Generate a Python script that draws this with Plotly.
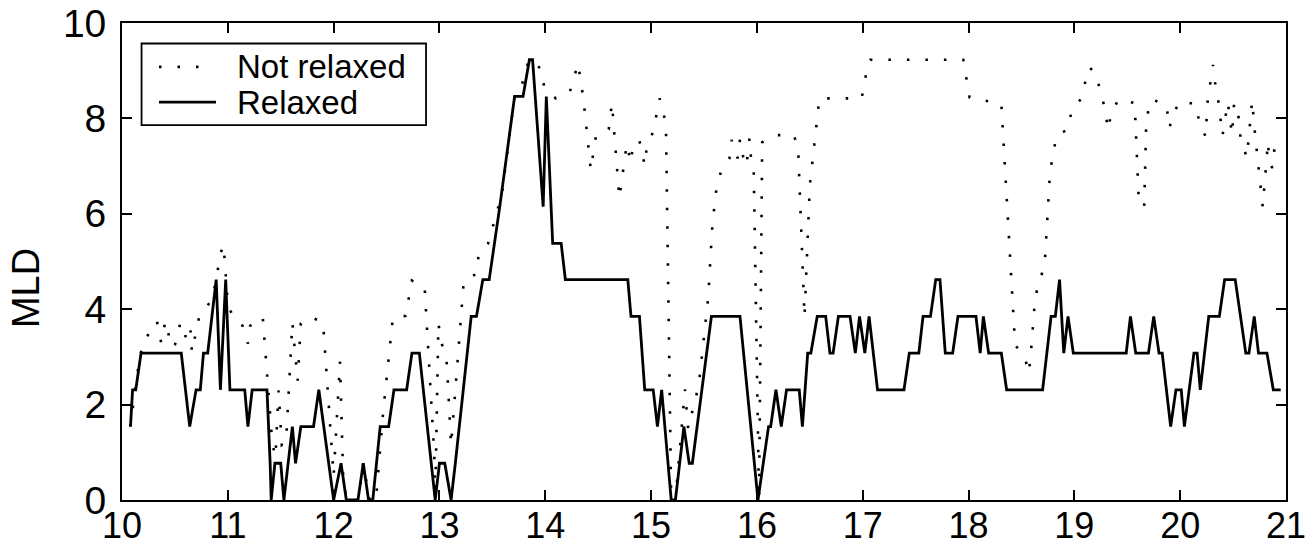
import plotly.graph_objects as go

# Relaxed series (vertices)
relaxed_x = [10.08, 10.10, 10.13, 10.18, 10.56, 10.64, 10.70, 10.74, 10.77, 10.81,
             10.89, 10.93, 10.98, 11.02, 11.16, 11.19, 11.23, 11.37, 11.40, 11.41,
             11.445, 11.50, 11.53, 11.61, 11.64, 11.69, 11.81, 11.86, 12.00, 12.07,
             12.12, 12.23, 12.28, 12.33, 12.37, 12.44, 12.52, 12.57, 12.69, 12.74,
             12.81, 12.96, 13.00, 13.05, 13.11, 13.15, 13.30, 13.35, 13.41, 13.47,
             13.57, 13.71, 13.79, 13.85, 13.88, 13.98, 14.01, 14.07, 14.15, 14.19,
             14.78, 14.81, 14.89, 14.94, 15.02, 15.06, 15.10, 15.19, 15.23, 15.31,
             15.36, 15.39, 15.57, 15.84, 16.01, 16.11, 16.13, 16.18, 16.23, 16.28,
             16.40, 16.43, 16.48, 16.51, 16.57, 16.65, 16.69, 16.72, 16.77, 16.88,
             16.93, 16.97, 17.02, 17.06, 17.14, 17.39, 17.44, 17.53, 17.57, 17.64,
             17.69, 17.73, 17.78, 17.85, 17.90, 18.07, 18.11, 18.14, 18.19, 18.31,
             18.36, 18.70, 18.78, 18.82, 18.86, 18.90, 18.94, 18.99, 19.49, 19.53,
             19.58, 19.70, 19.75, 19.80, 19.83, 19.91, 19.96, 20.01, 20.04, 20.13,
             20.16, 20.19, 20.27, 20.37, 20.42, 20.52, 20.62, 20.65, 20.70, 20.74,
             20.82, 20.88, 20.95]
relaxed_y = [1.54, 2.31, 2.31, 3.08, 3.08, 1.54, 2.31, 2.31, 3.08, 3.08,
             4.62, 2.31, 4.62, 2.31, 2.31, 1.54, 2.31, 2.31, 0.77, 0.00,
             0.77, 0.77, 0.00, 1.54, 0.77, 1.54, 1.54, 2.31, 0.00, 0.77,
             0.00, 0.00, 0.77, 0.00, 0.00, 1.54, 1.54, 2.31, 2.31, 3.08,
             3.08, 0.00, 0.77, 0.77, 0.00, 0.77, 3.85, 3.85, 4.62, 4.62,
             6.15, 8.46, 8.46, 9.23, 9.23, 6.15, 8.46, 5.38, 5.38, 4.62,
             4.62, 3.85, 3.85, 2.31, 2.31, 1.54, 2.31, 0.00, 0.00, 1.54,
             0.77, 0.77, 3.85, 3.85, 0.00, 1.54, 1.54, 2.31, 1.54, 2.31,
             2.31, 1.54, 3.08, 3.08, 3.85, 3.85, 3.08, 3.08, 3.85, 3.85,
             3.08, 3.85, 3.08, 3.85, 2.31, 2.31, 3.08, 3.08, 3.85, 3.85,
             4.62, 4.62, 3.08, 3.08, 3.85, 3.85, 3.08, 3.85, 3.08, 3.08,
             2.31, 2.31, 3.85, 3.85, 4.62, 3.08, 3.85, 3.08, 3.08, 3.85,
             3.08, 3.08, 3.85, 3.08, 3.08, 1.54, 2.31, 2.31, 1.54, 3.08,
             3.08, 2.31, 3.85, 3.85, 4.62, 4.62, 3.08, 3.08, 3.85, 3.08,
             3.08, 2.31, 2.31]

# Not relaxed series (path traced through the dots)
notrelaxed_x = [10.08, 10.14, 10.18, 10.20, 10.33, 10.37, 10.41, 10.47, 10.50, 10.55,
                10.58, 10.61, 10.65, 10.66, 10.73, 10.85, 10.90, 10.92, 10.96, 11.00,
                11.05, 11.14, 11.19, 11.21, 11.33, 11.37, 11.42, 11.45, 11.48, 11.51,
                11.55, 11.61, 11.66, 11.69, 11.78, 11.90, 11.98, 12.00, 12.06, 12.09,
                12.12, 12.23, 12.28, 12.34, 12.40, 12.47, 12.56, 12.68, 12.74, 12.86,
                12.95, 12.96, 12.99, 13.02, 13.07, 13.11, 13.23, 13.35, 13.37, 13.46,
                13.59, 13.71, 13.77, 13.80, 13.85, 13.88, 13.97, 13.99, 14.10, 14.23,
                14.31, 14.36, 14.43, 14.48, 14.60, 14.63, 14.70, 14.77, 14.81, 14.83,
                14.89, 14.94, 14.96, 15.02, 15.08, 15.14, 15.19, 15.23, 15.32, 15.35,
                15.45, 15.54, 15.58, 15.62, 15.66, 15.74, 15.76, 15.78, 15.82, 15.84,
                15.87, 15.90, 15.93, 15.95, 15.97, 16.02, 16.05, 16.17, 16.35, 16.39,
                16.45, 16.50, 16.56, 16.59, 16.99, 17.05, 17.07, 17.95, 18.01, 18.31,
                18.44, 18.53, 18.57, 18.59, 18.63, 18.72, 18.77, 18.83, 18.95, 18.97,
                19.06, 19.14, 19.20, 19.28, 19.32, 19.35, 19.42, 19.57, 19.61, 19.66,
                19.68, 19.73, 19.87, 19.90, 19.93, 20.01, 20.15, 20.18, 20.24, 20.26,
                20.31, 20.33, 20.36, 20.40, 20.45, 20.49, 20.51, 20.56, 20.57, 20.63,
                20.68, 20.71, 20.78, 20.83, 20.84, 20.87, 20.89, 20.95]
notrelaxed_y = [1.54, 2.60, 3.10, 3.30, 3.75, 3.30, 3.75, 3.20, 3.25, 3.70,
                3.70, 3.30, 3.55, 3.10, 3.85, 4.20, 4.72, 5.10, 5.35, 4.10,
                3.84, 3.65, 3.28, 3.65, 3.84, 2.70, 1.20, 0.90, 2.30, 1.15,
                1.20, 3.72, 2.50, 3.70, 3.84, 3.72, 0.98, 0.50, 2.90, 0.50,
                0.00, 0.00, 0.77, 0.00, 0.00, 1.89, 3.83, 3.86, 4.60, 4.46,
                1.00, 0.00, 3.70, 3.30, 2.85, 1.15, 4.60, 4.74, 5.14, 5.38,
                6.41, 8.46, 8.56, 8.94, 9.23, 9.23, 9.00, 8.63, 8.42, 8.54,
                9.15, 8.42, 6.92, 7.65, 7.77, 8.32, 6.33, 7.46, 7.07, 7.48,
                7.53, 7.02, 7.42, 7.72, 8.42, 7.90, 0.00, 0.00, 2.32, 1.50,
                2.40, 4.25, 5.80, 6.57, 6.88, 7.16, 7.55, 7.37, 7.16, 7.56,
                7.20, 7.00, 7.58, 7.00, 6.90, 0.00, 7.50, 7.65, 7.65, 7.34,
                3.84, 6.60, 7.80, 8.42, 8.42, 9.15, 9.23, 9.23, 8.44, 8.30,
                3.25, 3.00, 2.66, 3.11, 4.26, 4.95, 6.88, 7.63, 7.79, 8.16,
                8.40, 9.07, 8.96, 8.28, 7.76, 8.14, 8.40, 8.32, 6.20, 6.16,
                8.00, 8.40, 8.28, 7.80, 8.11, 8.37, 8.29, 7.92, 7.62, 8.37,
                9.12, 8.75, 8.37, 7.64, 8.34, 7.66, 8.33, 7.96, 7.57, 7.18,
                8.37, 7.61, 6.15, 7.51, 7.14, 6.96, 7.35, 7.60]

x_ticks = [10, 11, 12, 13, 14, 15, 16, 17, 18, 19, 20, 21]
y_ticks = [0, 2, 4, 6, 8, 10]
series_names = ["Not relaxed", "Relaxed"]
y_title = "MLD"

FONT = "Liberation Sans, Arial, Helvetica, sans-serif"
DOT_DASH = "2.5px,16px"

fig = go.Figure()
fig.add_trace(go.Scatter(
    x=notrelaxed_x, y=notrelaxed_y, mode="lines", name=series_names[0],
    line=dict(color="black", width=2.6, dash=DOT_DASH), showlegend=False,
))
fig.add_trace(go.Scatter(
    x=relaxed_x, y=relaxed_y, mode="lines", name=series_names[1],
    line=dict(color="black", width=2.8), showlegend=False,
))

axis_common = dict(
    showline=True, linecolor="black", linewidth=1.8, mirror="ticks",
    ticks="inside", ticklen=10, tickwidth=1.8, tickcolor="black",
    showgrid=False, zeroline=False, automargin=False,
)

# legend drawn in paper coordinates (box, samples, labels)
L_X0, L_X1, L_Y0, L_Y1 = 0.0168, 0.2612, 0.786, 0.957
ROW_Y = [0.908, 0.834]
SAMPLE_X = [0.0318, 0.0808]
TEXT_X = 0.0971

shapes = [
    dict(type="rect", xref="paper", yref="paper", x0=L_X0, x1=L_X1, y0=L_Y0, y1=L_Y1,
         line=dict(color="black", width=1.8), fillcolor="white", layer="above"),
    dict(type="line", xref="paper", yref="paper", x0=SAMPLE_X[0], x1=SAMPLE_X[1] - 0.015,
         y0=ROW_Y[0], y1=ROW_Y[0], line=dict(color="black", width=2.6, dash=DOT_DASH), layer="above"),
    dict(type="line", xref="paper", yref="paper", x0=SAMPLE_X[0], x1=SAMPLE_X[1],
         y0=ROW_Y[1], y1=ROW_Y[1], line=dict(color="black", width=2.8), layer="above"),
]
annotations = [
    dict(xref="paper", yref="paper", x=TEXT_X, y=ROW_Y[0], text=series_names[0], showarrow=False,
         xanchor="left", yanchor="middle", font=dict(family=FONT, size=33, color="black")),
    dict(xref="paper", yref="paper", x=TEXT_X, y=ROW_Y[1], text=series_names[1], showarrow=False,
         xanchor="left", yanchor="middle", font=dict(family=FONT, size=33, color="black")),
    dict(xref="paper", yref="paper", x=-0.083, y=0.445, text=y_title, showarrow=False,
         textangle=-90, xanchor="center", yanchor="middle",
         font=dict(family=FONT, size=38, color="black")),
]

fig.update_layout(
    width=1315, height=556,
    margin=dict(l=122, r=29, t=23, b=56, autoexpand=False),
    paper_bgcolor="white", plot_bgcolor="white",
    showlegend=False,
    shapes=shapes,
    annotations=annotations,
    xaxis=dict(range=[10, 21], tickvals=x_ticks, ticktext=[str(v) for v in x_ticks],
               ticklabelstandoff=-7, tickfont=dict(family=FONT, size=36, color="black"),
               **axis_common),
    yaxis=dict(range=[0, 10], tickvals=y_ticks, ticktext=[str(v) for v in y_ticks],
               ticklabelstandoff=6, tickfont=dict(family=FONT, size=39, color="black"),
               **axis_common),
)

fig.write_html("out.html")
